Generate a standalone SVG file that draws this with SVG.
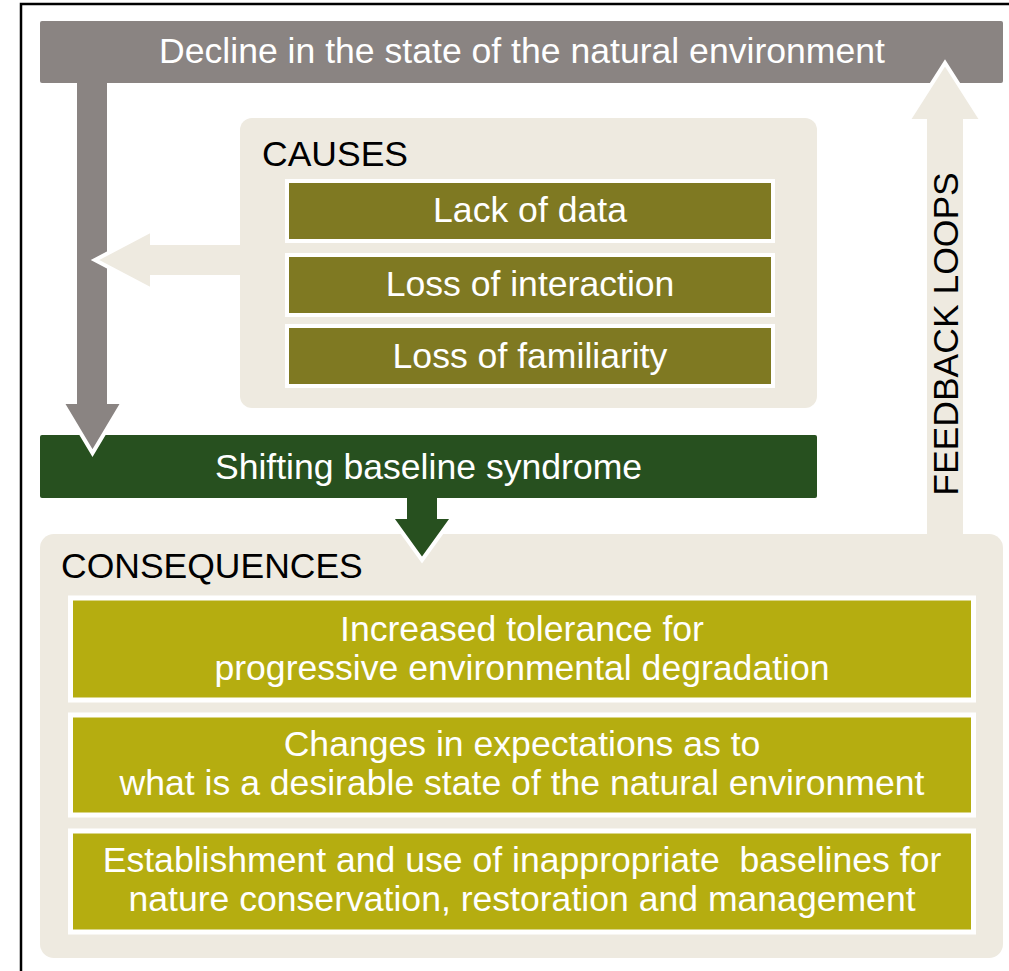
<svg xmlns="http://www.w3.org/2000/svg" width="1009" height="971" viewBox="0 0 1009 971">
  <style>
    text { font-family: "Liberation Sans", Arial, sans-serif; }
    .w { fill: #ffffff; font-size: 35.6px; text-anchor: middle; }
    .h { fill: #000000; font-size: 35.5px; }
    .panel { fill: #eeeae0; }
    .cause { fill: #7f7922; stroke: #ffffff; stroke-width: 4; }
    .cons { fill: #b5ad10; stroke: #ffffff; stroke-width: 5; }
    .tip { stroke: #ffffff; stroke-width: 4; stroke-linejoin: miter; }
  </style>
  <rect x="0" y="0" width="1009" height="971" fill="#ffffff"/>
  <rect id="frame" x="21" y="4" width="1000" height="990" fill="none" stroke="#000000" stroke-width="2.5"/>

  <g id="decline">
    <rect x="40" y="21" width="963" height="62" rx="2" fill="#8a8482"/>
    <text class="w" x="522" y="63">Decline in the state of the natural environment</text>
  </g>

  <g id="causes">
    <rect class="panel" x="240" y="118" width="577" height="290" rx="12"/>
    <text class="h" x="262" y="166">CAUSES</text>
    <g id="cause-data">
      <rect class="cause" x="287" y="181" width="486" height="60"/>
      <text class="w" x="530" y="222">Lack of data</text>
    </g>
    <g id="cause-interaction">
      <rect class="cause" x="287" y="255" width="486" height="60"/>
      <text class="w" x="530" y="296">Loss of interaction</text>
    </g>
    <g id="cause-familiarity">
      <rect class="cause" x="287" y="326" width="486" height="60"/>
      <text class="w" x="530" y="368">Loss of familiarity</text>
    </g>
  </g>

  <g id="syndrome">
    <rect x="40" y="435" width="777" height="63" rx="2" fill="#27501f"/>
    <text class="w" x="428.5" y="479">Shifting baseline syndrome</text>
  </g>

  <g id="consequences">
    <rect class="panel" x="40" y="534" width="963" height="424" rx="14"/>
    <text class="h" x="61" y="578" font-size="36.5">CONSEQUENCES</text>
    <g id="cons-tolerance">
      <rect class="cons" x="70.5" y="598" width="903" height="102"/>
      <text class="w" x="522" y="641">Increased tolerance for</text>
      <text class="w" x="522" y="680">progressive environmental degradation</text>
    </g>
    <g id="cons-expectations">
      <rect class="cons" x="70.5" y="715" width="903" height="100"/>
      <text class="w" x="522" y="756">Changes in expectations as to</text>
      <text class="w" x="522" y="795">what is a desirable state of the natural environment</text>
    </g>
    <g id="cons-baselines">
      <rect class="cons" x="70.5" y="831" width="903" height="101"/>
      <text class="w" x="522" y="872" xml:space="preserve">Establishment and use of inappropriate  baselines for</text>
      <text class="w" x="522" y="911">nature conservation, restoration and management</text>
    </g>
  </g>

  <g id="connectors">
    <g id="arrow-decline-syndrome" fill="#8a8482">
      <polygon class="tip" points="62,402 123,402 92.5,453"/>
      <rect x="77" y="80" width="30" height="326"/>
    </g>
    <g id="arrow-causes" fill="#eeeae0">
      <polygon class="tip" points="152,230 152,290 95,260"/>
      <rect x="148" y="245" width="96" height="30"/>
    </g>
    <g id="arrow-syndrome-consequences" fill="#27501f">
      <polygon class="tip" points="391,517 453,517 422,560"/>
      <rect x="407" y="495" width="30" height="26"/>
    </g>
    <g id="arrow-feedback" fill="#eeeae0">
      <polygon class="tip" points="908,121 982,121 945,63"/>
      <rect x="927" y="117" width="36" height="421"/>
    </g>
    <text class="h" font-size="36" text-anchor="middle" transform="translate(958,334) rotate(-90)">FEEDBACK LOOPS</text>
  </g>
</svg>
